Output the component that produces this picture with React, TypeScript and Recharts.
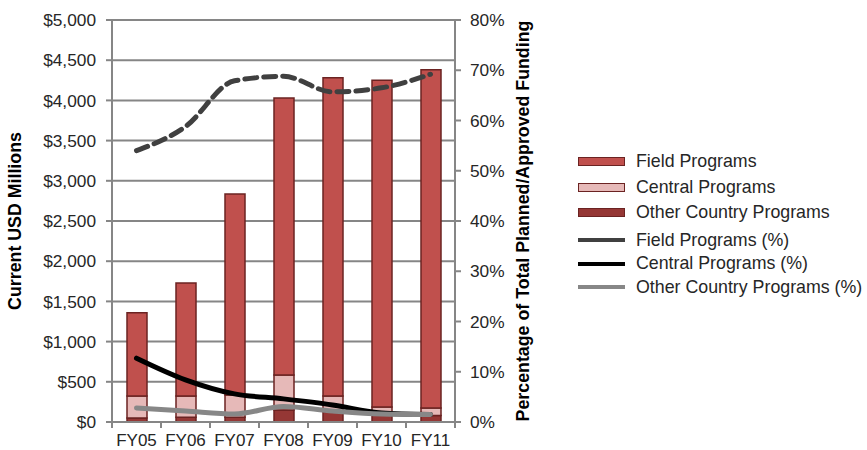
import React from "react";
import {
  ComposedChart,
  Bar,
  Line,
  XAxis,
  YAxis,
  CartesianGrid,
} from "recharts";

const years = ["FY05", "FY06", "FY07", "FY08", "FY09", "FY10", "FY11"];

// Current USD millions
const fieldUsd = [1035, 1405, 2500, 3445, 3960, 4065, 4205];
const centralUsd = [273, 263, 276, 435, 193, 100, 95];
const otherUsd = [50, 60, 60, 150, 130, 87, 80];

// Percent of total planned/approved funding
const fieldPct = [54, 58.8, 67.9, 68.8, 65.7, 66.5, 69.2];
const centralPct = [12.7, 8.4, 5.6, 4.6, 3.4, 1.8, 1.5];
const otherPct = [2.8, 2.2, 1.6, 3.1, 2.2, 1.6, 1.5];

const usdTicks = [0, 500, 1000, 1500, 2000, 2500, 3000, 3500, 4000, 4500, 5000];
const pctTicks = [0, 10, 20, 30, 40, 50, 60, 70, 80];

const data = years.map((y, i) => ({
  year: y,
  field: fieldUsd[i],
  central: centralUsd[i],
  other: otherUsd[i],
  fieldPct: fieldPct[i],
  centralPct: centralPct[i],
  otherPct: otherPct[i],
}));

const FONT = "'Liberation Sans', Arial, sans-serif";
const OUTLINE = "#6b2322";
const AXIS = "#868686";
const TEXT = "#262626";

const legendItems = [
  { label: "Field Programs", color: "#c0504d", kind: "bar" },
  { label: "Central Programs", color: "#e6b9b8", kind: "bar" },
  { label: "Other Country Programs", color: "#953735", kind: "bar" },
  { label: "Field Programs (%)", color: "#404040", kind: "line" },
  { label: "Central Programs (%)", color: "#000000", kind: "line" },
  { label: "Other Country Programs (%)", color: "#878787", kind: "line" },
];

function ChartLegend() {
  return (
    <div
      style={{
        position: "absolute",
        left: 578,
        top: 149,
        fontFamily: FONT,
        fontSize: 17.8,
        color: TEXT,
        whiteSpace: "nowrap",
      }}
    >
      {legendItems.map((it, i) => (
        <div
          key={it.label}
          style={{
            display: "flex",
            alignItems: "center",
            height: i < 3 ? 25.5 : 23.5,
            marginTop: i === 3 ? 3 : 0,
          }}
        >
          <span
            style={{
              display: "inline-block",
              flex: "none",
              width: it.kind === "bar" ? 45 : 47,
              height: it.kind === "bar" ? 7 : 4,
              background: it.color,
              border: it.kind === "bar" ? `1px solid ${OUTLINE}` : "none",
              marginRight: 11,
            }}
          />
          <span>{it.label}</span>
        </div>
      ))}
    </div>
  );
}

// category ticks sit between the bars, like the original
function YearTick(props: any) {
  const { x, y, payload, index } = props;
  const half = 343 / 7 / 2;
  return (
    <g>
      <line x1={x - half} x2={x - half} y1={y - 8} y2={y - 2} stroke={AXIS} strokeWidth={2} />
      {index === years.length - 1 && (
        <line x1={x + half} x2={x + half} y1={y - 8} y2={y - 2} stroke={AXIS} strokeWidth={2} />
      )}
      <text x={x} y={y + 16} textAnchor="middle" fill={TEXT} fontSize={17} fontFamily={FONT}>
        {payload.value}
      </text>
    </g>
  );
}

export default function App() {
  return (
    <div style={{ position: "absolute", left: 0, top: 0, width: 867, height: 450, background: "#fff" }}>
      <ComposedChart
        width={867}
        height={450}
        data={data}
        margin={{ top: 20, right: 332, bottom: 0, left: 0 }}
        barCategoryGap={0}
      >
        <CartesianGrid vertical={false} stroke={AXIS} strokeWidth={2} yAxisId="usd" />
        <XAxis
          dataKey="year"
          height={28}
          axisLine={{ stroke: AXIS, strokeWidth: 2 }}
          tickLine={false}
          tick={<YearTick />}
          interval={0}
        />
        <YAxis
          yAxisId="usd"
          width={112}
          domain={[0, 5000]}
          ticks={usdTicks}
          tickFormatter={(v) => `$${v.toLocaleString("en-US")}`}
          axisLine={{ stroke: AXIS, strokeWidth: 2 }}
          tickLine={{ stroke: AXIS, strokeWidth: 2 }}
          tickSize={6}
          tickMargin={10}
          tick={{ fill: TEXT, fontSize: 17.3, fontFamily: FONT }}
          label={{
            value: "Current USD Millions",
            angle: -90,
            position: "center",
            dx: -41,
            style: { fontFamily: FONT, fontSize: 17.8, fontWeight: "bold", fill: "#000" },
          }}
        />
        <YAxis
          yAxisId="pct"
          orientation="right"
          width={80}
          domain={[0, 80]}
          ticks={pctTicks}
          tickFormatter={(v) => `${v}%`}
          axisLine={{ stroke: AXIS, strokeWidth: 2 }}
          tickLine={{ stroke: AXIS, strokeWidth: 2 }}
          tickSize={6}
          tickMargin={9}
          tick={{ fill: TEXT, fontSize: 17.3, fontFamily: FONT }}
          label={{
            value: "Percentage of Total Planned/Approved Funding",
            angle: -90,
            position: "center",
            dx: 28,
            style: { fontFamily: FONT, fontSize: 17.8, fontWeight: "bold", fill: "#000" },
          }}
        />
        <Bar yAxisId="usd" dataKey="other" stackId="a" barSize={20} fill="#953735" stroke={OUTLINE} strokeWidth={1.5} isAnimationActive={false} />
        <Bar yAxisId="usd" dataKey="central" stackId="a" barSize={20} fill="#e6b9b8" stroke={OUTLINE} strokeWidth={1.5} isAnimationActive={false} />
        <Bar yAxisId="usd" dataKey="field" stackId="a" barSize={20} fill="#c0504d" stroke={OUTLINE} strokeWidth={1.5} isAnimationActive={false} />
        <Line yAxisId="pct" type="monotone" dataKey="fieldPct" stroke="#404040" strokeWidth={5} strokeDasharray="12 7" strokeLinecap="round" dot={false} isAnimationActive={false} />
        <Line yAxisId="pct" type="monotone" dataKey="centralPct" stroke="#000000" strokeWidth={5} strokeLinecap="round" dot={false} isAnimationActive={false} />
        <Line yAxisId="pct" type="monotone" dataKey="otherPct" stroke="#878787" strokeWidth={5} strokeLinecap="round" dot={false} isAnimationActive={false} />
      </ComposedChart>
      <ChartLegend />
    </div>
  );
}
